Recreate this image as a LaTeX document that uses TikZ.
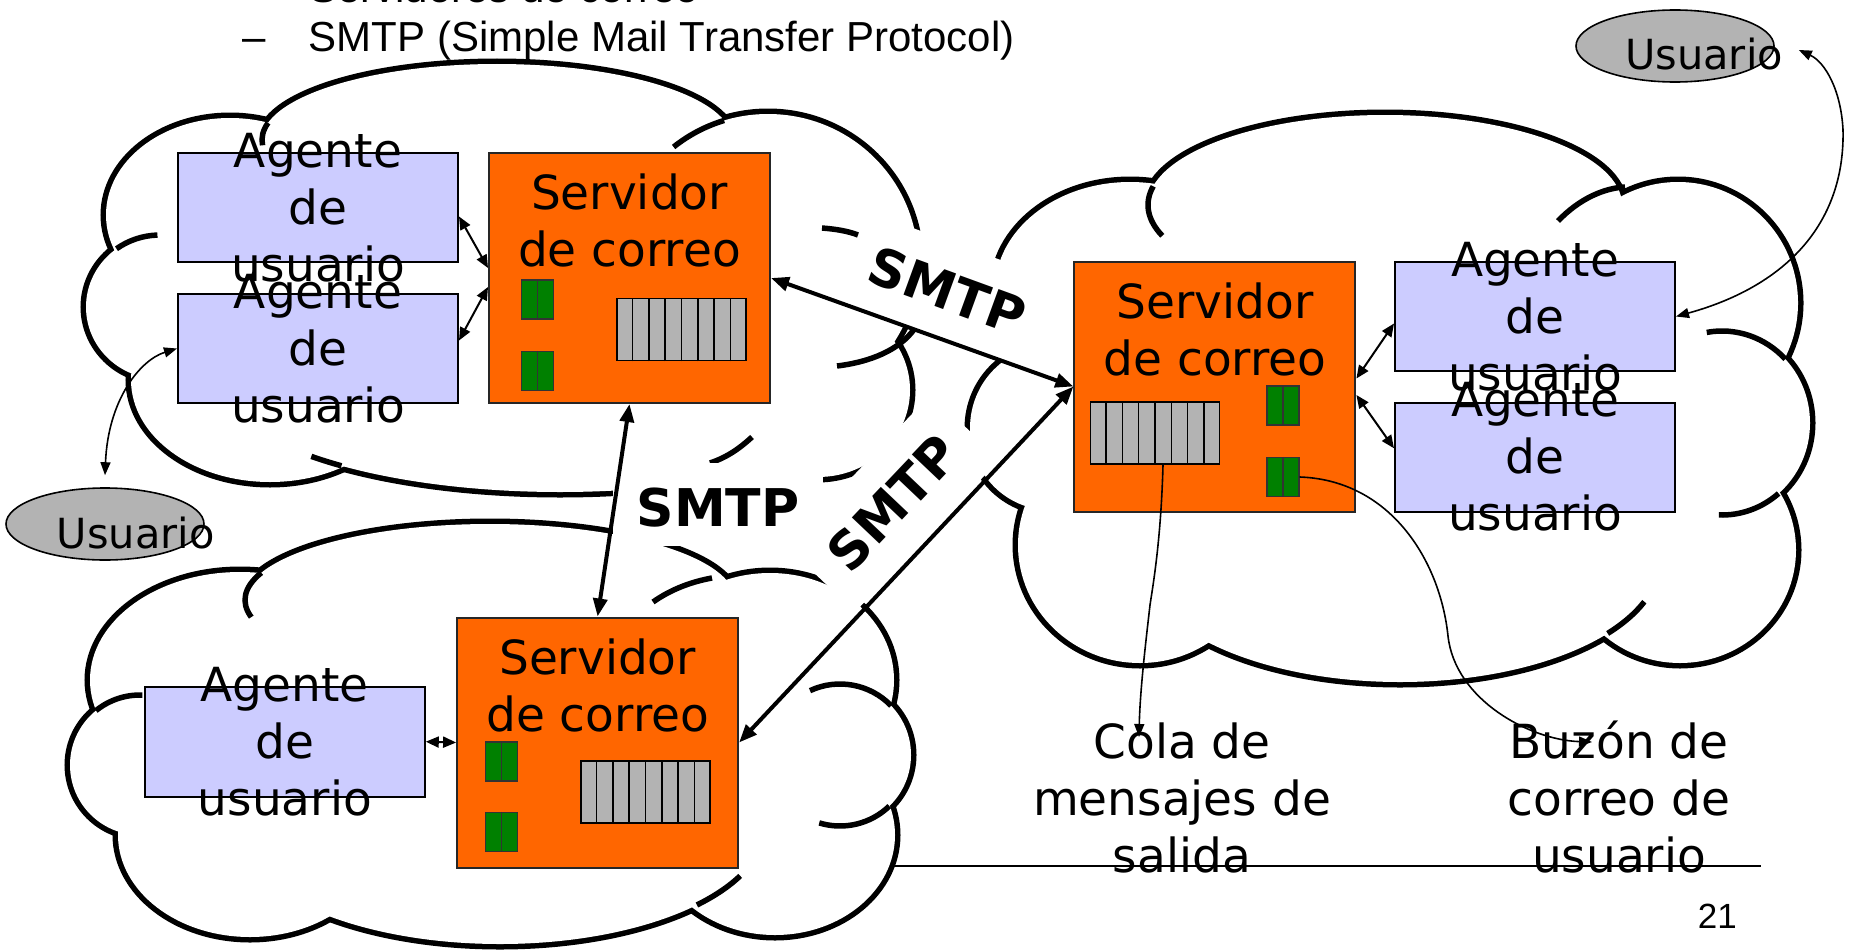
\documentclass[tikz,border=0pt]{standalone}
\usepackage{fontspec}
\usetikzlibrary{arrows.meta,calc,shapes.geometric}
\newfontfamily\dvs{DejaVu Sans}
\newfontfamily\lib{Liberation Sans}
\definecolor{srvfill}{HTML}{FF6600}
\definecolor{agfill}{HTML}{CCCCFF}
\definecolor{qgray}{HTML}{B3B3B3}
\definecolor{gbox}{HTML}{008000}
\newcommand\cldarc[6]{\draw[crease] ({#1+#3*cos(#5)},{#2+#4*sin(#5)}) arc[start angle=#5, end angle=#6, x radius=#3, y radius=#4];}
\def\TLc{497/140/235/76, 230/215/124/97, 160/307/74/72, 270/380/139/102, 560/380/340/112, 818/390/92/87, 768/262/150/148, 500/290/330/160}
\def\BLc{490/600/245/76, 770/680/124/107, 840/755/71/71, 775/835/120/100, 500/826/265/118, 250/835/132/102, 140/765/70/70, 240/680/150/108, 490/740/330/140}
\def\Rc{1385/205/237/90, 1130/290/135/108, 1050/428/80/82, 1140/545/122/118, 1400/560/260/122, 1680/550/116/113, 1722/423/88/92, 1678/303/120/121, 1390/410/300/200}
\begin{document}
\begin{tikzpicture}[x=1pt,y=-1pt,
  cloudedge/.style={draw=black, line width=11pt},
  crease/.style={draw=black, line width=5.5pt},
  server/.style={draw=black!85, line width=2pt, fill=srvfill, minimum width=281pt, minimum height=250pt, inner sep=0pt},
  agent/.style={draw=black, line width=2pt, fill=agfill, minimum width=280pt, minimum height=109pt, inner sep=0pt},
  queue/.style={draw=black, line width=1.8pt, fill=qgray, minimum width=129pt, minimum height=62pt, inner sep=0pt},
  mbox/.style={draw=black!80, line width=1.5pt, fill=gbox, minimum width=32pt, minimum height=39pt, inner sep=0pt},
  lbl/.style={font=\dvs\fontsize{47}{57}\selectfont, align=center, inner sep=0pt},
  smtp/.style={font=\dvs\bfseries\fontsize{52}{62}\selectfont, inner sep=0pt},
  smtpbg/.style={fill=white, inner sep=0pt},
  user/.style={ellipse, draw=black, line width=1.6pt, fill=qgray, minimum width=198pt, minimum height=72pt, inner sep=0pt},
  usertxt/.style={font=\dvs\fontsize{41.5}{50}\selectfont, inner sep=0pt, anchor=base west},
  slide/.style={font=\lib\fontsize{42}{50}\selectfont, inner sep=0pt, anchor=base west},
  bigarrow/.style={line width=4pt, arrows={Triangle[length=18pt,width=14pt]-Triangle[length=18pt,width=14pt]}},
  smallarrow/.style={line width=2pt, arrows={Triangle[length=13pt,width=11pt]-Triangle[length=13pt,width=11pt]}},
  thinarrow/.style={line width=1.6pt, arrows={Triangle[length=13pt,width=10pt]-Triangle[length=13pt,width=10pt]}},
  onearrow/.style={line width=1.6pt, arrows={-Triangle[length=13pt,width=10pt]}}
]
\useasboundingbox (0,0) rectangle (1849,950);
\fill[white] (0,0) rectangle (1849,950);

% slide text
\node[slide] (top0) at (309,3) {Servidores de correo};
\node[slide] (dash) at (242,52) {–};
\node[slide] (top1) at (308.7,52) {SMTP (Simple Mail Transfer Protocol)};
\draw[line width=2pt] (860,866) coordinate (fl) -- (1761,866) coordinate (fr);
\node[font=\lib\fontsize{35}{42}\selectfont, anchor=base east, inner sep=0pt] (pg) at (1737,928) {21};

% clouds
\foreach \cx/\cy/\rx/\ry in \TLc {\path[cloudedge] (\cx,\cy) ellipse[x radius=\rx, y radius=\ry];}
\foreach \cx/\cy/\rx/\ry in \TLc {\fill[white] (\cx,\cy) ellipse[x radius=\rx, y radius=\ry];}
\cldarc{497}{140}{235}{76}{193}{176}
\cldarc{160}{307}{74}{72}{234}{268}
\cldarc{560}{380}{340}{112}{130}{137}
\cldarc{768}{262}{150}{148}{231}{253}
\draw[crease] (822,228) .. controls (835,229) and (848,231) .. (858,235);
\draw[crease] (837,366) .. controls (870,362) and (900,350) .. (915,328);
\draw[crease] (752,437) .. controls (738,450) and (725,458) .. (710,463);

\foreach \cx/\cy/\rx/\ry in \BLc {\path[cloudedge] (\cx,\cy) ellipse[x radius=\rx, y radius=\ry];}
\foreach \cx/\cy/\rx/\ry in \BLc {\fill[white] (\cx,\cy) ellipse[x radius=\rx, y radius=\ry];}
\cldarc{490}{600}{245}{76}{201}{167}
\cldarc{840}{755}{71}{71}{245}{316}
\cldarc{840}{755}{71}{71}{46}{107}
\cldarc{500}{826}{265}{118}{42}{25}
\cldarc{140}{765}{70}{70}{231}{272}
\draw[crease] (653,602) .. controls (670,590) and (690,582) .. (712,578);

\foreach \cx/\cy/\rx/\ry in \Rc {\path[cloudedge] (\cx,\cy) ellipse[x radius=\rx, y radius=\ry];}
\foreach \cx/\cy/\rx/\ry in \Rc {\fill[white] (\cx,\cy) ellipse[x radius=\rx, y radius=\ry];}
\cldarc{1385}{205}{237}{90}{192}{160}
\cldarc{1722}{423}{88}{92}{260}{316}
\cldarc{1722}{423}{88}{92}{50}{92}
\cldarc{1400}{560}{260}{122}{37}{20}
\draw[crease] (1558,221) .. controls (1580,198) and (1605,188) .. (1625,187);

% label backgrounds
\node[smtpbg, minimum width=210pt, minimum height=83pt] (bgh) at (718,504.5) {};
\node[smtpbg, rotate=-20, minimum width=200pt, minimum height=95pt] (bg1) at (947,291) {};
\node[smtpbg, rotate=46.5, minimum width=210pt, minimum height=95pt] (bg2) at (893,503) {};

% boxes
\node[server] (s1) at (629.5,278) {};
\node[server] (s2) at (597.6,742.5) {};
\node[server] (s3) at (1214.9,386.5) {};
\node[agent] (a1) at (318,207.5) {};
\node[agent] (a2) at (318,348.5) {};
\node[agent, minimum height=110pt] (b1) at (284.8,741.7) {};
\node[agent] (r1) at (1535,316.5) {};
\node[agent] (r2) at (1535,457) {};
\node[queue] (q1) at (681.5,329.5) {};
\node[queue] (q2) at (645.5,791.7) {};
\node[queue] (q3) at (1155,432.8) {};
\foreach \q in {q1,q2,q3} \foreach \i in {1,...,7}
  \draw[line width=1.5pt] ($(\q.south west)!\i/8!(\q.south east)$) -- ($(\q.north west)!\i/8!(\q.north east)$);
\node[mbox] (m1) at (537.5,299.7) {};
\node[mbox] (m2) at (537.5,371.2) {};
\node[mbox] (m3) at (501.5,761.3) {};
\node[mbox] (m4) at (501.5,832.2) {};
\node[mbox] (m5) at (1282.8,405.5) {};
\node[mbox] (m6) at (1282.8,477) {};
\foreach \m in {m1,m2,m3,m4,m5,m6} \draw[line width=1.5pt, black!80] (\m.north) -- (\m.south);

% box texts
\node[lbl] (a1t) at (a1) {Agente\\de\\usuario};
\node[lbl] (a2t) at (a2) {Agente\\de\\usuario};
\node[lbl] (b1t) at (b1) {Agente\\de\\usuario};
\node[lbl] (r1t) at (r1) {Agente\\de\\usuario};
\node[lbl] (r2t) at (r2) {Agente\\de\\usuario};
\node[lbl, anchor=north] (s1t) at ([yshift=-21.5pt]s1.north) {Servidor\\de correo};
\node[lbl, anchor=north] (s2t) at ([yshift=-22pt]s2.north) {Servidor\\de correo};
\node[lbl, anchor=north] (s3t) at ([yshift=-22.3pt]s3.north) {Servidor\\de correo};

% SMTP labels
\node[smtp] (t0) at (718,508) {SMTP};
\node[smtp, rotate=-20] (t1) at (947,291) {SMTP};
\node[smtp, rotate=46.5] (t2) at (893,503) {SMTP};

% users
\node[user] (u1) at (105,524) {};
\node[usertxt] (u1t) at (56.7,548) {Usuario};
\node[user] (u2) at (1675,46) {};
\node[usertxt] (u2t) at (1625,70) {Usuario};

% queue / mailbox captions
\node[lbl, anchor=north] (cola) at (1182,722.3) {Cola de\\mensajes de\\salida};
\node[lbl, anchor=north] (buzon) at (1619,720.4) {Buzón de\\correo de\\usuario};
\coordinate (colatip) at (1139,737);
\coordinate (buztip) at (1592,742);

% connectors
\draw[bigarrow] (s1.east) -- (s3.west);
\draw[bigarrow] (s3.west) -- (s2.east);
\draw[bigarrow] (s1.south) -- (s2.north);
\draw[smallarrow] ([yshift=-9pt]a1.east) -- ([yshift=10pt]s1.west);
\draw[smallarrow] ([yshift=-9pt]s1.west) -- ([yshift=8pt]a2.east);
\draw[smallarrow] ([yshift=8pt]s3.east) -- ([yshift=-7pt]r1.west);
\draw[smallarrow] ([yshift=-8.5pt]s3.east) -- ([yshift=8.7pt]r2.west);
\draw[smallarrow] (b1.east) -- (s2.west);
\draw[thinarrow] (a2.west) .. controls (140,360) and (108,400) .. ([yshift=12pt]u1.north);
\draw[thinarrow] (r1.east) .. controls (1790,285) and (1845,220) .. (1843,130) .. controls (1841,90) and (1825,62) .. ([xshift=24pt,yshift=-4pt]u2.east);
\draw[onearrow] ([xshift=8pt]q3.south) .. controls (1161,540) and (1153,585) .. (1150,605) .. controls (1146,640) and (1140,690) .. (colatip);
\draw[onearrow] (m6.east) .. controls (1390,480) and (1440,560) .. (1448,636) .. controls (1455,700) and (1530,740) .. (buztip);
\end{tikzpicture}
\end{document}
